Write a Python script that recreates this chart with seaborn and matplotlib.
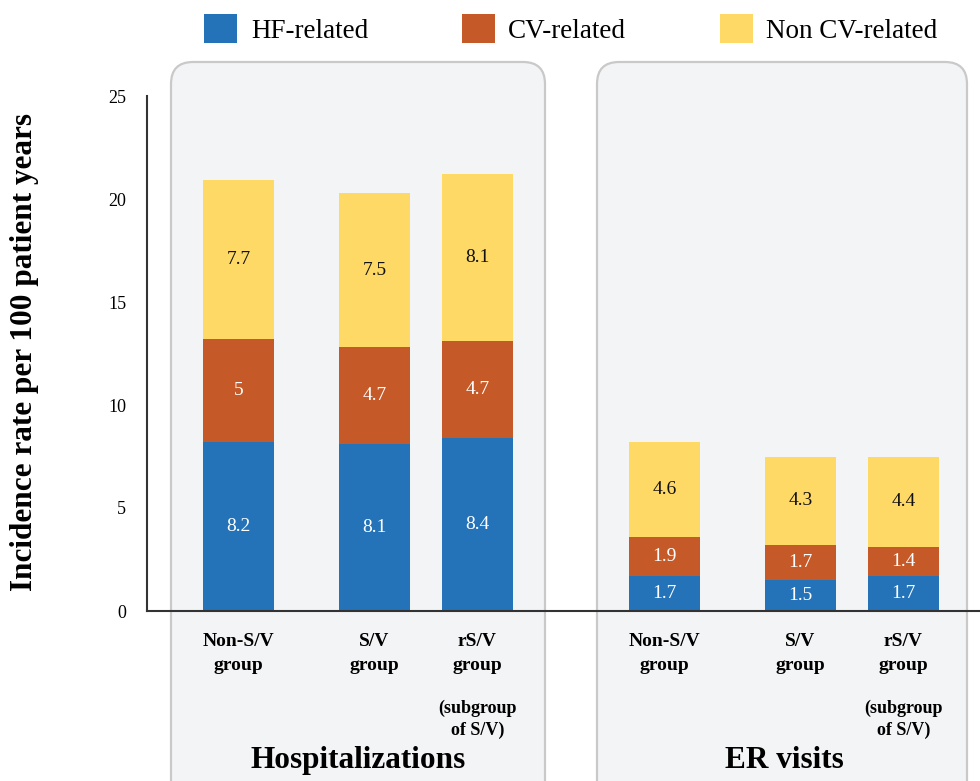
import numpy as np
import pandas as pd
import matplotlib
matplotlib.use("Agg")
import matplotlib.pyplot as plt
from matplotlib.patches import FancyBboxPatch, Patch
import seaborn as sns

# ---------------- data ----------------
groups = ["Hospitalizations", "Hospitalizations", "Hospitalizations",
          "ER visits", "ER visits", "ER visits"]
categories = ["Non-S/V\ngroup", "S/V\ngroup", "rS/V\ngroup",
              "Non-S/V\ngroup", "S/V\ngroup", "rS/V\ngroup"]
hf_related = [8.2, 8.1, 8.4, 1.7, 1.5, 1.7]
cv_related = [5.0, 4.7, 4.7, 1.9, 1.7, 1.4]
non_cv_related = [7.7, 7.5, 8.1, 4.6, 4.3, 4.4]
hf_labels = ["8.2", "8.1", "8.4", "1.7", "1.5", "1.7"]
cv_labels = ["5", "4.7", "4.7", "1.9", "1.7", "1.4"]
ncv_labels = ["7.7", "7.5", "8.1", "4.6", "4.3", "4.4"]
series_names = ["HF-related", "CV-related", "Non CV-related"]
group_titles = ["Hospitalizations", "ER visits"]
sub_note = "(subgroup\nof S/V)"
yticks = [0, 5, 10, 15, 20, 25]
ylabel = "Incidence rate per 100 patient years"

# ---------------- layout ----------------
positions = [0.915, 2.275, 3.305, 5.175, 6.535, 7.565]   # bar centres
bar_w = 0.71
title_x = [2.11, 6.37]
colors = ["#2473b8", "#c55a28", "#fed966"]

sns.set_theme(style="white")
plt.rcParams["font.family"] = ["Liberation Serif", "DejaVu Serif"]
plt.rcParams["text.color"] = "black"
plt.rcParams["xtick.color"] = "black"
plt.rcParams["ytick.color"] = "black"

df = pd.DataFrame({
    "pos": positions,
    "hf": hf_related,
    "cv": cv_related,
    "ncv": non_cv_related,
})
df["hf_cv"] = df["hf"] + df["cv"]
df["total"] = df["hf_cv"] + df["ncv"]

fig = plt.figure(figsize=(9.8, 7.81), dpi=100)
fig.patch.set_facecolor("white")

# background rounded panels (inches)
for x0, x1 in [(1.71, 5.45), (5.97, 9.67)]:
    p = FancyBboxPatch((x0, -0.3), x1 - x0, 7.19 + 0.3,
                       boxstyle="round,pad=0,rounding_size=0.22",
                       transform=fig.dpi_scale_trans,
                       facecolor="#f3f4f6", edgecolor="#c9c9c9",
                       linewidth=1.6, zorder=-5)
    fig.patches.append(p)

ax = fig.add_axes([147 / 980, 1 - 611 / 781, (980 - 147) / 980, (611 - 96) / 781])
ax.patch.set_alpha(0)

nat_w = np.min(np.diff(np.sort(positions)))
for col, c in [("total", colors[2]), ("hf_cv", colors[1]), ("hf", colors[0])]:
    sns.barplot(data=df, x="pos", y=col, native_scale=True, orient="x",
                width=bar_w / nat_w, color=c, saturation=1, errorbar=None,
                linewidth=0, ax=ax)

# value labels
for i, x in enumerate(positions):
    h, cvv, n = hf_related[i], cv_related[i], non_cv_related[i]
    ax.text(x, h / 2, hf_labels[i], ha="center", va="center", color="white", fontsize=14)
    ax.text(x, h + cvv / 2, cv_labels[i], ha="center", va="center", color="white", fontsize=14)
    ax.text(x, h + cvv + n / 2, ncv_labels[i], ha="center", va="center", color="#111111", fontsize=14)

ax.set_xlim(0, 8.33)
ax.set_ylim(0, 25)
ax.set_xlabel("")
ax.set_ylabel("")
ax.set_yticks(yticks)
ax.set_yticklabels([str(t) for t in yticks], fontsize=13, color="black")
ax.set_xticks(positions)
ax.set_xticklabels(categories, fontsize=14, fontweight="bold", linespacing=1.5, color="black")
ax.tick_params(axis="both", length=0)
ax.tick_params(axis="y", pad=15)
ax.tick_params(axis="x", pad=16)

for s in ["top", "right"]:
    ax.spines[s].set_visible(False)
for s in ["left", "bottom"]:
    ax.spines[s].set_visible(True)
    ax.spines[s].set_color("#333333")
    ax.spines[s].set_linewidth(1.5)

# subgroup notes under rS/V bars
for x in [positions[2], positions[5]]:
    ax.text(x, -5.25, sub_note, ha="center", va="center", fontsize=13,
            fontweight="bold", linespacing=1.38, clip_on=False)

# group titles
for tx, t in zip(title_x, group_titles):
    ax.text(tx, -7.25, t, ha="center", va="center", fontsize=22.5,
            fontweight="bold", clip_on=False)

fig.text(25 / 980, 1 - 352 / 781, ylabel, rotation=90, ha="center", va="center",
         fontsize=22.5, fontweight="bold", color="black")

handles = [Patch(facecolor=c, edgecolor="none") for c in colors]
fig.legend(handles, series_names, loc="center", bbox_to_anchor=(571 / 980, 1 - 29 / 781),
           ncol=3, frameon=False, fontsize=19.5, handlelength=1.22, handleheight=1.22,
           handletextpad=0.5, columnspacing=3.45, borderpad=0)

fig.savefig("out.png", dpi=100)
